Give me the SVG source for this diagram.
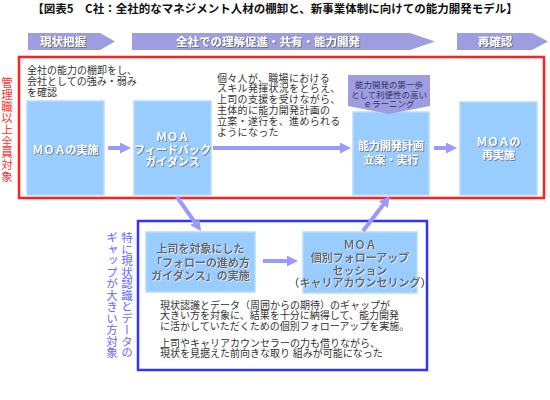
<svg xmlns="http://www.w3.org/2000/svg" width="550" height="400" viewBox="0 0 550 400">
<defs>
<style>
text{font-family:"Liberation Sans","Noto Sans CJK JP",sans-serif;}
.title{font-family:"Noto Sans CJK JP","Noto Sans",sans-serif;font-size:11.5px;font-weight:bold;fill:#111;}
.ban{fill:#9d9de0;}
.bant{font-size:11.5px;font-weight:bold;fill:#fff;filter:url(#sh);text-anchor:middle;}
.box{fill:#99ccff;stroke:#b8dcff;stroke-width:1.5;}
.bt{font-size:11px;font-weight:bold;fill:#fff;filter:url(#sh);text-anchor:middle;}
.gt{font-size:11px;font-weight:bold;fill:#666;filter:url(#sh2);text-anchor:middle;}
.body{font-size:10px;fill:#333;}
.vt{font-family:"Noto Sans CJK JP",sans-serif;writing-mode:vertical-rl;font-size:11.5px;}
.arr{stroke:#9999ff;stroke-width:4;fill:none;marker-end:url(#ah);}
</style>
<filter id="sh" x="-10%" y="-30%" width="130%" height="170%">
<feDropShadow dx="0.8" dy="0.8" stdDeviation="0.6" flood-color="#555" flood-opacity="0.8"/>
</filter>
<filter id="sh2" x="-10%" y="-30%" width="130%" height="170%">
<feDropShadow dx="0.8" dy="0.8" stdDeviation="0.5" flood-color="#fff" flood-opacity="0.7"/>
</filter>
<marker id="ah" markerUnits="userSpaceOnUse" markerWidth="12" markerHeight="12" refX="4" refY="5.5" orient="auto">
<path d="M0,0 L11,5.5 L0,11 z" fill="#9999ff"/>
</marker>
</defs>
<rect width="550" height="400" fill="#fff"/>
<text class="title" x="275" y="13" text-anchor="middle">【図表5　C社：全社的なマネジメント人材の棚卸と、新事業体制に向けての能力開発モデル】</text>

<g id="banner1"><polygon class="ban" points="28,33 100,33 115,41.5 100,50 28,50"/><text class="bant" x="63" y="45.5">現状把握</text></g>
<g id="banner2"><polygon class="ban" points="132,33 410,33 435,41.5 410,50 132,50"/><text class="bant" x="268" y="45.5">全社での理解促進・共有・能力開発</text></g>
<g id="banner3"><polygon class="ban" points="457,33 532,33 548,41.5 532,50 457,50"/><text class="bant" x="495" y="45.5">再確認</text></g>

<g id="group-red">
<rect x="19" y="57" width="525" height="141" fill="#fff" stroke="#ff2020" stroke-width="2.5"/>
<text class="vt" x="7" y="77" fill="#ff3333" letter-spacing="0.2">管理職以上全員対象</text>
</g>

<g id="note1" class="body">
<text x="27" y="73.5">全社の能力の棚卸をし、</text>
<text x="27" y="84.5">会社としての強み・弱み</text>
<text x="27" y="95.5">を確認</text>
</g>
<g id="note2" class="body" letter-spacing="0.3">
<text x="217" y="81.5">個々人が、職場における</text>
<text x="217" y="92.4">スキル発揮状況をとらえ、</text>
<text x="217" y="103.3">上司の支援を受けながら、</text>
<text x="217" y="114.2">主体的に能力開発計画の</text>
<text x="217" y="125.1">立案・遂行を、進められる</text>
<text x="217" y="136">ようになった</text>
</g>

<g id="box1"><rect class="box" x="27" y="101" width="77" height="94"/><text class="bt" x="65.5" y="154">ＭＯＡの実施</text></g>
<g id="box2"><rect class="box" x="134" y="101" width="77" height="94"/>
<text class="bt" x="172.5" y="141">ＭＯＡ</text><text class="bt" x="172.5" y="153.5">フィードバック</text><text class="bt" x="172.5" y="166">ガイダンス</text></g>
<g id="box3"><rect class="box" x="353" y="112" width="76" height="83"/>
<text class="bt" x="391" y="150">能力開発計画</text><text class="bt" x="391" y="164">立案・実行</text></g>
<g id="callout"><polygon points="348,75 430,75 430,106 389,114 348,106" fill="#9d9de0"/>
<g font-size="8.5" fill="#333366" text-anchor="middle">
<text x="389" y="88">能力開発の第一歩</text><text x="389" y="97.5">として利便性の高い</text><text x="389" y="106.5">ｅラーニング</text></g></g>
<g id="box4"><rect class="box" x="460" y="102" width="77" height="93"/>
<text class="bt" x="498.5" y="146">ＭＯＡの</text><text class="bt" x="498.5" y="158.5">再実施</text></g>

<g id="group-blue">
<rect x="138" y="221" width="289" height="149" fill="#fff" stroke="#3333ff" stroke-width="2.5"/>
<text class="vt" x="127" y="232" fill="#6666ff">特に現状認識とデータの</text>
<text class="vt" x="112" y="232" fill="#6666ff">ギャップが大きい方対象</text>
</g>
<g id="box5"><rect class="box" x="146" y="232" width="109" height="60"/>
<text class="gt" x="200.5" y="253">上司を対象にした</text><text class="gt" x="200.5" y="267">「フォローの進め方</text><text class="gt" x="200.5" y="280">ガイダンス」の実施</text></g>
<g id="box6"><rect class="box" x="303" y="232" width="114" height="61"/>
<text class="gt" x="360" y="249">ＭＯＡ</text><text class="gt" x="360" y="262">個別フォローアップ</text><text class="gt" x="360" y="275">セッション</text><text class="gt" x="360" y="287" font-size="8.5">（キャリアカウンセリング）</text></g>
<g id="note3" class="body">
<text x="160" y="308.5">現状認識とデータ（周囲からの期待）のギャップが</text>
<text x="160" y="319">大きい方を対象に、結果を十分に納得して、能力開発</text>
<text x="160" y="329.5">に活かしていただくための個別フォローアップを実施。</text>
<text x="160" y="346.5">上司やキャリアカウンセラーの力も借りながら、</text>
<text x="160" y="357">現状を見据えた前向きな取り 組みが可能になった</text>
</g>

<g id="connectors">
<line class="arr" x1="108" y1="148" x2="124" y2="148"/>
<line class="arr" x1="213" y1="148" x2="344" y2="148"/>
<line class="arr" x1="434" y1="148" x2="450" y2="148"/>
<line class="arr" x1="177" y1="197" x2="197" y2="225.3"/>
<line class="arr" x1="263" y1="261" x2="291" y2="261"/>
<line class="arr" x1="363" y1="231" x2="385.7" y2="201.5"/>
</g>
</svg>
